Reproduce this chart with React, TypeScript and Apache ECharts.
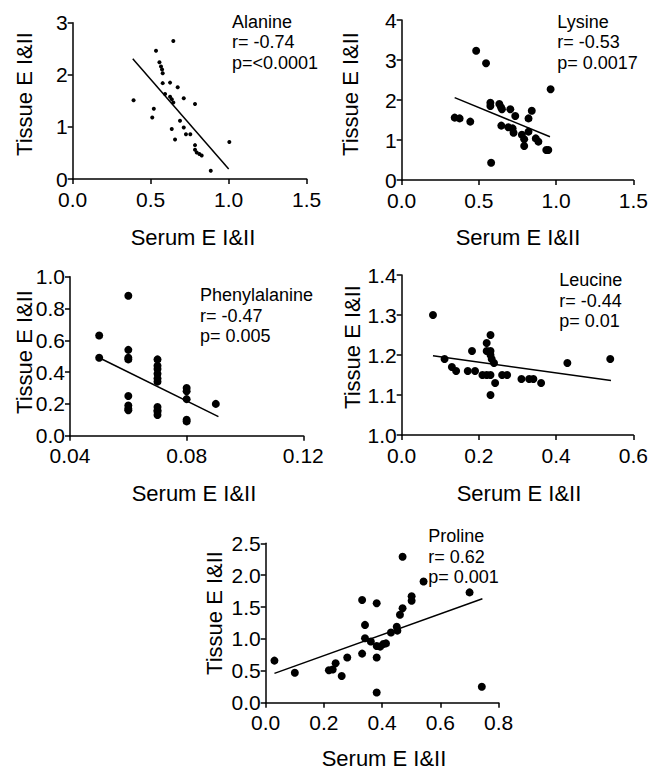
import React, { useEffect, useRef } from "react";
import * as echarts from "echarts";

// ---------- data ----------
const alanineX = [0.39, 0.52, 0.51, 0.645, 0.534, 0.556, 0.566, 0.573, 0.577, 0.577, 0.624, 0.673, 0.592, 0.624, 0.635, 0.645, 0.712, 0.784, 0.688, 0.712, 0.635, 0.656, 0.726, 0.754, 0.784, 0.784, 0.795, 0.812, 0.827, 0.885, 1.004];
const alanineY = [1.51, 1.35, 1.18, 2.65, 2.46, 2.24, 2.16, 2.1, 2.03, 1.84, 1.85, 1.76, 1.63, 1.58, 1.53, 1.47, 1.55, 1.44, 1.12, 0.99, 0.96, 0.76, 0.86, 0.86, 0.65, 0.56, 0.51, 0.48, 0.45, 0.16, 0.71];
const alanineFit = [[0.385, 2.31], [1.0, 0.19]];

const lysineX = [0.343, 0.375, 0.444, 0.482, 0.546, 0.574, 0.574, 0.579, 0.632, 0.643, 0.649, 0.645, 0.703, 0.735, 0.69, 0.718, 0.724, 0.778, 0.793, 0.793, 0.821, 0.821, 0.842, 0.868, 0.885, 0.936, 0.949, 0.964];
const lysineY = [1.56, 1.54, 1.46, 3.23, 2.92, 1.93, 1.85, 0.43, 1.9, 1.82, 1.77, 1.36, 1.77, 1.6, 1.32, 1.29, 1.18, 1.13, 1.02, 0.85, 1.54, 1.21, 1.73, 1.04, 0.96, 0.75, 0.75, 2.27];
const lysineFit = [[0.343, 2.06], [0.96, 1.08]];

const pheX = [0.05, 0.05, 0.06, 0.06, 0.06, 0.06, 0.06, 0.06, 0.06, 0.06, 0.07, 0.07, 0.07, 0.07, 0.07, 0.07, 0.07, 0.07, 0.07, 0.07, 0.08, 0.08, 0.08, 0.08, 0.08, 0.09];
const pheY = [0.63, 0.49, 0.88, 0.54, 0.49, 0.48, 0.25, 0.19, 0.17, 0.16, 0.48, 0.44, 0.42, 0.39, 0.36, 0.34, 0.18, 0.16, 0.15, 0.13, 0.3, 0.28, 0.23, 0.1, 0.09, 0.2];
const pheFit = [[0.05, 0.49], [0.0909, 0.12]];

const leuX = [0.081, 0.111, 0.13, 0.141, 0.171, 0.182, 0.19, 0.209, 0.22, 0.22, 0.23, 0.23, 0.23, 0.233, 0.239, 0.22, 0.23, 0.242, 0.23, 0.26, 0.273, 0.31, 0.33, 0.341, 0.361, 0.429, 0.54];
const leuY = [1.3, 1.19, 1.17, 1.16, 1.16, 1.21, 1.16, 1.15, 1.23, 1.21, 1.25, 1.21, 1.2, 1.19, 1.18, 1.15, 1.15, 1.13, 1.1, 1.15, 1.15, 1.14, 1.14, 1.14, 1.13, 1.18, 1.19];
const leuFit = [[0.081, 1.198], [0.542, 1.136]];

const proX = [0.03, 0.1, 0.217, 0.23, 0.24, 0.261, 0.28, 0.331, 0.331, 0.341, 0.341, 0.361, 0.381, 0.381, 0.381, 0.381, 0.393, 0.404, 0.413, 0.43, 0.45, 0.452, 0.461, 0.47, 0.47, 0.501, 0.501, 0.542, 0.7, 0.742];
const proY = [0.66, 0.47, 0.51, 0.52, 0.62, 0.42, 0.71, 1.61, 0.77, 1.22, 1.01, 0.96, 1.56, 0.89, 0.71, 0.16, 0.88, 0.92, 0.93, 1.1, 1.19, 1.13, 1.38, 2.29, 1.48, 1.67, 1.6, 1.9, 1.73, 0.25];
const proFit = [[0.03, 0.46], [0.744, 1.63]];

const names = ["Alanine", "Lysine", "Phenylalanine", "Leucine", "Proline"];
const rLabels = ["r= -0.74", "r= -0.53", "r= -0.47", "r= -0.44", "r= 0.62"];
const pLabels = ["p=<0.0001", "p= 0.0017", "p= 0.005", "p= 0.01", "p= 0.001"];
const xTitle = "Serum E I&II";
const yTitle = "Tissue E I&II";

// axis ranges: [min, max, interval, decimals]
const xRanges = [[0, 1.5, 0.5, 1], [0, 1.5, 0.5, 1], [0.04, 0.12, 0.04, 2], [0, 0.6, 0.2, 1], [0, 0.8, 0.2, 1]];
const yRanges = [[0, 3, 1, 0], [0, 4, 1, 0], [0, 1, 0.2, 1], [1, 1.4, 0.1, 1], [0, 2.5, 0.5, 1]];

// ---------- layout ----------
const FONT = "'Liberation Sans', Arial, Helvetica, sans-serif";
const grids = [
  { left: 72.7, top: 22.7, width: 234, height: 156.3 },
  { left: 401.7, top: 20, width: 233.3, height: 160 },
  { left: 70, top: 276.7, width: 233.3, height: 159 },
  { left: 401.7, top: 275, width: 234, height: 160 },
  { left: 265.7, top: 543.3, width: 233, height: 159.4 },
];
const dotSizes = [4, 8, 8, 8, 8];
const annPos = [
  [232, 21.7], [557.3, 21.7], [200, 295], [559.3, 280], [428.3, 536],
];
const xTitlePos = [[193, 237], [518, 237], [194, 493], [519, 493], [384, 758]];
const yTitlePos = [[24, 94], [350, 94], [24, 352], [352, 347], [214, 613]];

export default function App() {
  const ref = useRef<HTMLDivElement>(null);
  useEffect(() => {
    if (!ref.current) return;
    const chart = echarts.init(ref.current, undefined, { renderer: "svg" });
    const xs = [alanineX, lysineX, pheX, leuX, proX];
    const ys = [alanineY, lysineY, pheY, leuY, proY];
    const fits = [alanineFit, lysineFit, pheFit, leuFit, proFit];

    const axisCommon = (r: number[], isX: boolean) => ({
      type: "value",
      min: r[0],
      max: r[1],
      interval: r[2],
      splitLine: { show: false },
      axisLine: { show: true, onZero: false, lineStyle: { color: "#000", width: 1.5 } },
      axisTick: { show: true, length: 5, inside: false, lineStyle: { color: "#000", width: 1.5 } },
      axisLabel: {
        color: "#000",
        fontSize: 21,
        lineHeight: 14,
        fontFamily: FONT,
        margin: isX ? 13 : 5,
        showMinLabel: true,
        showMaxLabel: true,
        formatter: (v: number) => v.toFixed(r[3]),
      },
    });

    const series: any[] = [];
    xs.forEach((xa, i) => {
      series.push({
        type: "scatter",
        xAxisIndex: i,
        yAxisIndex: i,
        symbolSize: dotSizes[i],
        itemStyle: { color: "#000", opacity: 1 },
        data: xa.map((x, j) => [x, ys[i][j]]),
        silent: true,
      });
      series.push({
        type: "line",
        xAxisIndex: i,
        yAxisIndex: i,
        symbol: "none",
        lineStyle: { color: "#000", width: 1.5 },
        data: fits[i],
        silent: true,
      });
    });

    const graphic: any[] = [];
    names.forEach((n, i) => {
      const [ax, ay] = annPos[i];
      [n, rLabels[i], pLabels[i]].forEach((t, k) => {
        graphic.push({
          type: "text",
          x: ax,
          y: ay + k * 20.7,
          style: { text: t, fontSize: 18, lineHeight: 18, fontFamily: FONT, fill: "#000", textAlign: "left", textVerticalAlign: "middle" },
        });
      });
      graphic.push({
        type: "text",
        x: xTitlePos[i][0],
        y: xTitlePos[i][1],
        style: { text: xTitle, fontSize: 22, lineHeight: 20, fontFamily: FONT, fill: "#000", textAlign: "center", textVerticalAlign: "middle" },
      });
      graphic.push({
        type: "text",
        x: yTitlePos[i][0],
        y: yTitlePos[i][1],
        rotation: Math.PI / 2,
        style: { text: yTitle, fontSize: 22, lineHeight: 20, fontFamily: FONT, fill: "#000", textAlign: "center", textVerticalAlign: "middle" },
      });
    });

    chart.setOption({
      animation: false,
      backgroundColor: "#fff",
      grid: grids.map((g) => ({ ...g, containLabel: false })),
      xAxis: xRanges.map((r, i) => ({ gridIndex: i, ...axisCommon(r, true) })),
      yAxis: yRanges.map((r, i) => ({ gridIndex: i, ...axisCommon(r, false) })),
      series,
      graphic,
    });
    return () => chart.dispose();
  }, []);
  return (
    <div
      ref={ref}
      style={{ position: "absolute", left: 0, top: 0, width: 651, height: 771, background: "#fff" }}
    />
  );
}
